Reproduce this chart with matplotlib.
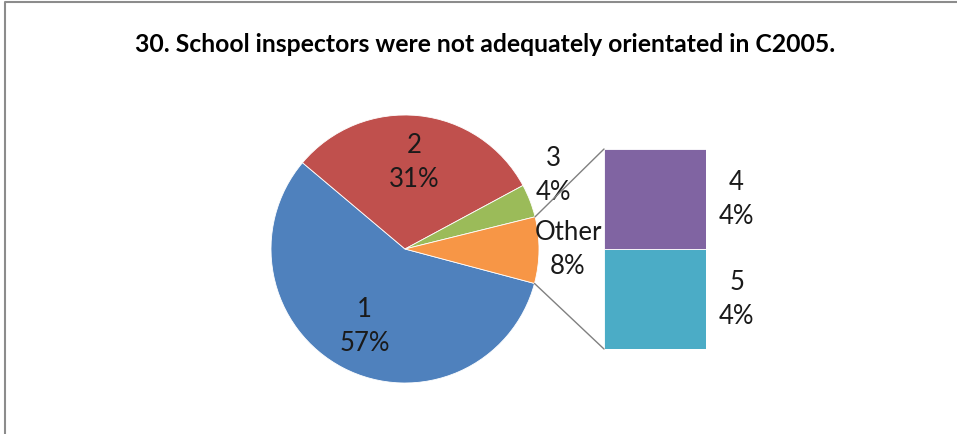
import numpy as np
import matplotlib
matplotlib.use("Agg")
import matplotlib.pyplot as plt
from matplotlib.patches import ConnectionPatch

plt.rcParams['font.family'] = ['Lato', 'DejaVu Sans']

title = "30. School inspectors were not adequately orientated in C2005."

# main pie: responses 1, 2, 3 and the grouped remainder
pie_labels = ["1", "2", "3"]
pie_values = [57, 31, 4]
pie_colors = ["#4F81BD", "#C0504D", "#9BBB59"]

# the grouped slice is split out into the stacked bar
bar_labels = ["5", "4"]
bar_values = [4, 4]
bar_colors = ["#4BACC6", "#8064A2"]
other_color = "#F79646"

W, H = 957, 434
fig = plt.figure(figsize=(W / 100, H / 100), dpi=100)
ax = fig.add_axes([0, 0, 1, 1])

other_value = sum(bar_values)
values = pie_values + [other_value]
colors = pie_colors + [other_color]

cx, cy, r = 405, H - 249, 134
wedges, _ = ax.pie(values, colors=colors, startangle=-14.9, counterclock=False,
                   center=(cx, cy), radius=r, frame=True,
                   wedgeprops=dict(linewidth=0.6, edgecolor="white"))
ax.set_xlim(0, W)
ax.set_ylim(0, H)
ax.set_aspect("equal")
ax.axis("off")

lab_fs = 18.5
lab_kw = dict(ha="center", va="center", fontsize=lab_fs, color="#1a1a1a",
              linespacing=1.45)
# labels for slices 1 and 2 sit inside the wedge
for w, lab, v in zip(wedges[:2], pie_labels[:2], pie_values[:2]):
    mid = np.deg2rad((w.theta1 + w.theta2) / 2)
    ax.text(cx + 0.65 * r * np.cos(mid), cy + 0.65 * r * np.sin(mid),
            f"{lab}\n{v}%", **lab_kw)
# slice 3 and Other are labelled just outside
ax.text(553, H - 176, f"{pie_labels[2]}\n{pie_values[2]}%", **lab_kw)
ax.text(568, H - 250, f"Other\n{other_value}%", **lab_kw)

# stacked bar for the split-out responses
bx0, bx1, by0, by1 = 604, 706, H - 349, H - 149
bax = fig.add_axes([bx0 / W, by0 / H, (bx1 - bx0) / W, (by1 - by0) / H])
bottom = 0
for v, c, lab in zip(bar_values, bar_colors, bar_labels):
    bax.bar(0, v, bottom=bottom, width=1, color=c, edgecolor="white",
            linewidth=0.6)
    bax.text(0.80, bottom + v / 2, f"{lab}\n{v}%", transform=bax.transData,
             clip_on=False, **lab_kw)
    bottom += v
bax.set_xlim(-0.5, 0.5)
bax.set_ylim(0, other_value)
bax.axis("off")

# connector lines from the Other wedge to the bar corners
ow = wedges[3]
for ang, yb in [(ow.theta1, 0), (ow.theta2, other_value)]:
    a = np.deg2rad(ang)
    con = ConnectionPatch(xyA=(cx + r * np.cos(a), cy + r * np.sin(a)),
                          coordsA=ax.transData, xyB=(-0.5, yb),
                          coordsB=bax.transData, color="#808080", lw=1.0)
    fig.add_artist(con)

# chart frame
ax.plot([4.5, 4.5, W], [0, H - 1.5, H - 1.5], color="#8c8c8c", lw=1.5,
        clip_on=False)

ax.text(485, H - 45, title, ha="center", va="center", fontsize=17.8,
        fontweight="bold", color="#000000")

fig.savefig("out.png", dpi=100)
